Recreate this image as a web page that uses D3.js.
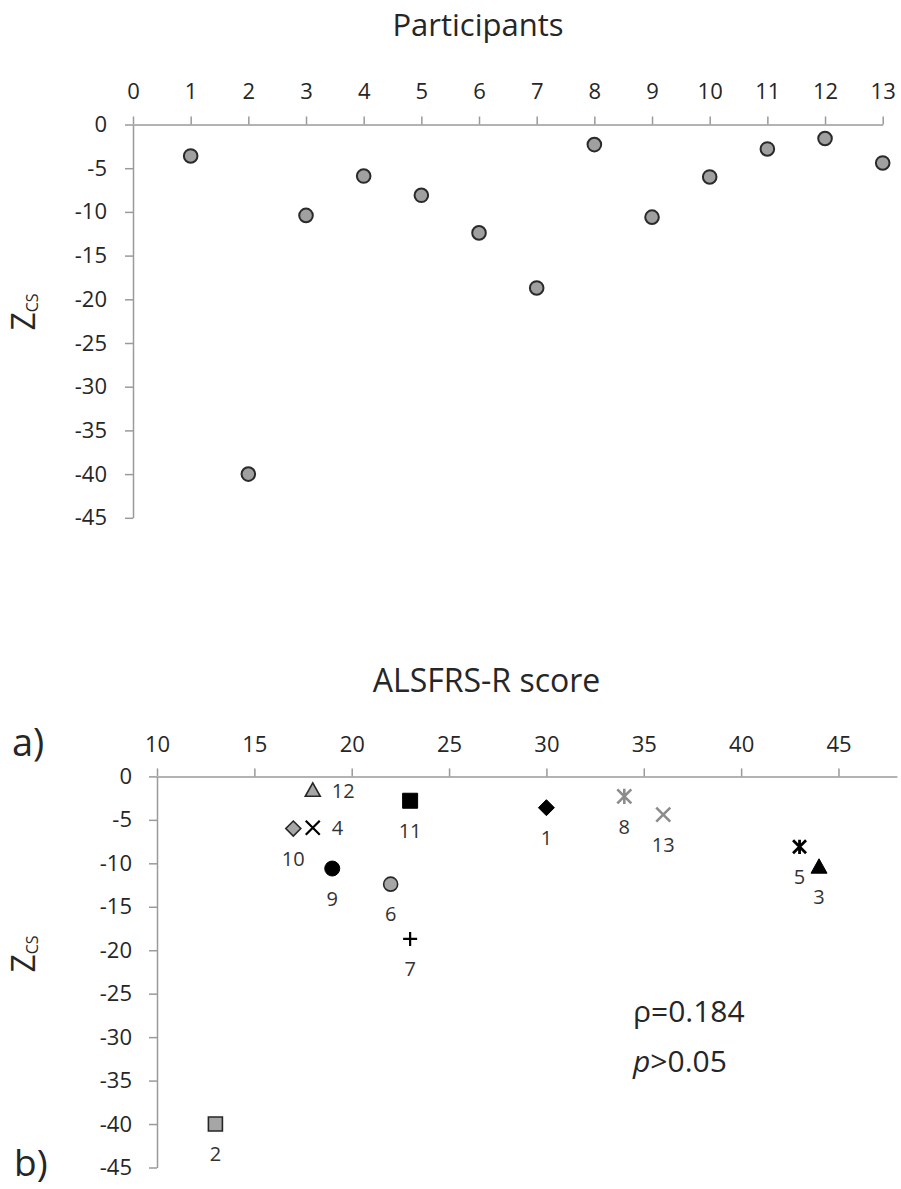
<!DOCTYPE html>
<html>
<head>
<meta charset="utf-8">
<script src="https://cdn.jsdelivr.net/npm/d3@7"></script>
<style>
  html, body { margin: 0; padding: 0; background: #fff; }
  svg { display: block; }
  text { font-family: "Open Sans", sans-serif; fill: #262626; }
  .axis path, .axis line { stroke: #9a9a9a; stroke-width: 1.5; }
  .axis text { font-size: 22px; fill: #262626; font-family: "Open Sans", sans-serif; }
</style>
</head>
<body>
<script>
// ---------- data ----------
const participants = [1, 2, 3, 4, 5, 6, 7, 8, 9, 10, 11, 12, 13];
const zcs = [-3.6, -40, -10.4, -5.9, -8.1, -12.4, -18.7, -2.3, -10.6, -6.0, -2.8, -1.6, -4.4];
const alsfrs = [30, 13, 44, 18, 43, 22, 23, 34, 19, 17, 23, 18, 36];

const topXTicks = [0, 1, 2, 3, 4, 5, 6, 7, 8, 9, 10, 11, 12, 13];
const bottomXTicks = [10, 15, 20, 25, 30, 35, 40, 45];
const yTicks = [0, -5, -10, -15, -20, -25, -30, -35, -40, -45];

const topTitle = "Participants";
const bottomTitle = "ALSFRS-R score";
const statRho = "ρ=0.184";
const statP = ">0.05";

// ---------- marker styles (per participant) ----------
const GRAY = "#a6a6a6", DARK = "#262626", LGRAY = "#8c8c8c";
const markerStyle = {
  1:  { shape: "diamond",  fill: "#000", stroke: "#000", sw: 1, r: 8, label: "below" },
  2:  { shape: "square",   fill: GRAY, stroke: DARK, sw: 1.6, r: 7, label: "below" },
  3:  { shape: "triangle", fill: "#000", stroke: "#000", sw: 1, r: 8, label: "below" },
  4:  { shape: "x",        fill: "none", stroke: "#000", sw: 2.2, r: 7, label: "right" },
  5:  { shape: "star",     fill: "none", stroke: "#000", sw: 2.8, r: 6.5, label: "below" },
  6:  { shape: "circle",   fill: GRAY, stroke: DARK, sw: 1.6, r: 7, label: "below" },
  7:  { shape: "plus",     fill: "none", stroke: "#000", sw: 2.2, r: 7, label: "below" },
  8:  { shape: "star",     fill: "none", stroke: LGRAY, sw: 2.6, r: 7, label: "below" },
  9:  { shape: "circle",   fill: "#000", stroke: "#000", sw: 1, r: 7.5, label: "below" },
  10: { shape: "diamond",  fill: GRAY, stroke: DARK, sw: 1.6, r: 7.5, label: "below" },
  11: { shape: "square",   fill: "#000", stroke: "#000", sw: 1, r: 7.5, label: "below" },
  12: { shape: "triangle", fill: GRAY, stroke: DARK, sw: 1.6, r: 7.5, label: "right" },
  13: { shape: "x",        fill: "none", stroke: LGRAY, sw: 2.6, r: 7, label: "below" }
};

function shapePath(shape, r) {
  const p = d3.path();
  switch (shape) {
    case "circle": p.arc(0, 0, r, 0, 2 * Math.PI); p.closePath(); break;
    case "square": p.rect(-r, -r, 2 * r, 2 * r); break;
    case "diamond": p.moveTo(0, -r); p.lineTo(r, 0); p.lineTo(0, r); p.lineTo(-r, 0); p.closePath(); break;
    case "triangle": p.moveTo(0, -r); p.lineTo(r, r * 0.8); p.lineTo(-r, r * 0.8); p.closePath(); break;
    case "x": p.moveTo(-r, -r); p.lineTo(r, r); p.moveTo(r, -r); p.lineTo(-r, r); break;
    case "plus": p.moveTo(-r, 0); p.lineTo(r, 0); p.moveTo(0, -r); p.lineTo(0, r); break;
    case "star": p.moveTo(-r, -r); p.lineTo(r, r); p.moveTo(r, -r); p.lineTo(-r, r); p.moveTo(0, -r * 1.1); p.lineTo(0, r * 1.1); break;
  }
  return p.toString();
}

const fmt = d => String(d);   // plain hyphen-minus like the reference

const W = 901, H = 1189;
const svg = d3.select("body").append("svg").attr("width", W).attr("height", H);

// ---------- top chart ----------
const xTop = d3.scaleLinear().domain([0, 13]).range([133, 882.7]);
const yTop = d3.scaleLinear().domain([0, -45]).range([124.5, 517.8]);

svg.append("g").attr("class", "axis")
  .attr("transform", `translate(0,${yTop(0)})`)
  .call(d3.axisTop(xTop).tickValues(topXTicks).tickFormat(fmt).tickSize(8).tickSizeOuter(0).tickPadding(18));
svg.append("g").attr("class", "axis")
  .attr("transform", `translate(${xTop(0)},0)`)
  .call(d3.axisLeft(yTop).tickValues(yTicks).tickFormat(fmt).tickSize(8).tickSizeOuter(0).tickPadding(18));

svg.append("text").attr("x", 478).attr("y", 36).attr("text-anchor", "middle")
  .style("font-size", "31px").text(topTitle);

svg.append("g").selectAll("circle").data(participants).join("circle")
  .attr("cx", d => xTop(d))
  .attr("cy", (d, i) => yTop(zcs[i]))
  .attr("r", 6.8)
  .attr("fill", "#a0a0a0")
  .attr("stroke", "#2a2a2a")
  .attr("stroke-width", 2);

function yLabel(cx, cy) {
  const t = svg.append("text").attr("transform", `translate(${cx},${cy}) rotate(-90)`)
    .attr("text-anchor", "middle");
  t.append("tspan").style("font-size", "32px").text("Z");
  t.append("tspan").style("font-size", "16px").attr("dy", 3).text("CS");
}
yLabel(35, 312);

svg.append("text").attr("x", 12).attr("y", 756).style("font-size", "38px").text("a)");

// ---------- bottom chart ----------
const xBot = d3.scaleLinear().domain([10, 48]).range([157, 896.9]);
const yBot = d3.scaleLinear().domain([0, -45]).range([776.4, 1167.5]);

svg.append("g").attr("class", "axis")
  .attr("transform", `translate(0,${yBot(0)})`)
  .call(d3.axisTop(xBot).tickValues(bottomXTicks).tickFormat(fmt).tickSize(8).tickSizeOuter(0).tickPadding(16));
svg.append("g").attr("class", "axis")
  .attr("transform", `translate(${xBot(10)},0)`)
  .call(d3.axisLeft(yBot).tickValues(yTicks).tickFormat(fmt).tickSize(8).tickSizeOuter(0).tickPadding(17));

svg.append("text").attr("x", 486.5).attr("y", 692).attr("text-anchor", "middle")
  .style("font-size", "32px").text(bottomTitle);

const pts = participants.map((p, i) => ({ p, x: alsfrs[i], y: zcs[i], s: markerStyle[p] }));
const g = svg.append("g");
g.selectAll("path").data(pts).join("path")
  .attr("transform", d => `translate(${xBot(d.x)},${yBot(d.y)})`)
  .attr("d", d => shapePath(d.s.shape, d.s.r))
  .attr("fill", d => d.s.fill)
  .attr("stroke", d => d.s.stroke)
  .attr("stroke-width", d => d.s.sw);

g.selectAll("text").data(pts).join("text")
  .attr("x", d => d.s.label === "right" ? xBot(d.x) + 19 : xBot(d.x))
  .attr("y", d => d.s.label === "right" ? yBot(d.y) : yBot(d.y) + 30)
  .attr("dy", "0.36em")
  .attr("text-anchor", d => d.s.label === "right" ? "start" : "middle")
  .style("font-size", "20px").style("fill", "#333")
  .text(d => d.p);

yLabel(35, 954);

svg.append("text").attr("x", 633).attr("y", 1022).style("font-size", "30px").text(statRho);
const pt = svg.append("text").attr("x", 633).attr("y", 1072).style("font-size", "30px");
pt.append("tspan").style("font-style", "italic").text("p");
pt.append("tspan").text(statP);

svg.append("text").attr("x", 14).attr("y", 1176).style("font-size", "37px").text("b)");
</script>
</body>
</html>
